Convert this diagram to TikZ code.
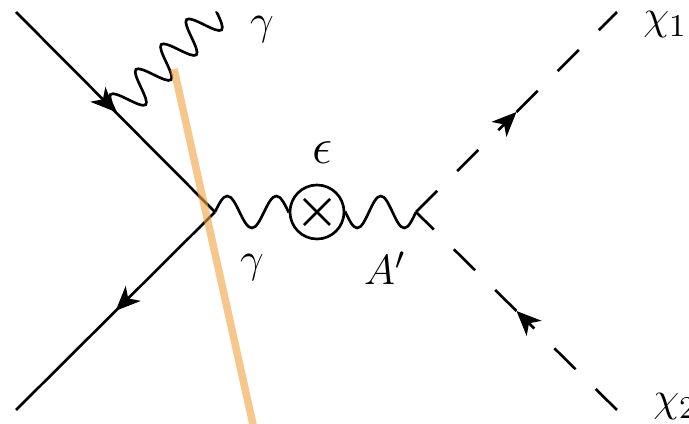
\documentclass[tikz,border=0pt]{standalone}
\usetikzlibrary{arrows.meta, calc, decorations, decorations.markings}

\definecolor{cutorange}{RGB}{242,160,60}

% photon line: whole number of half waves fitted to the path
\pgfdeclaredecoration{photonwave}{initial}{
  \state{initial}[width=+0pt, next state=up, persistent precomputation={%
      \pgfmathsetmacro\wavehalves{max(1,round(2*\pgfdecoratedpathlength/\pgfdecorationsegmentlength))}%
      \pgfmathsetlengthmacro\wavehalf{\pgfdecoratedpathlength/\wavehalves-0.01pt}%
      \pgfmathsetlengthmacro\wavequarter{\wavehalf/2}%
      \xdef\wavehalf{\wavehalf}\xdef\wavequarter{\wavequarter}}]{}
  \state{up}[width=\wavehalf, next state=down]{
    \pgfpathsine{\pgfpoint{\wavequarter}{\pgfdecorationsegmentamplitude}}
    \pgfpathcosine{\pgfpoint{\wavequarter}{-\pgfdecorationsegmentamplitude}}
  }
  \state{down}[width=\wavehalf, next state=up]{
    \pgfpathsine{\pgfpoint{\wavequarter}{-\pgfdecorationsegmentamplitude}}
    \pgfpathcosine{\pgfpoint{\wavequarter}{\pgfdecorationsegmentamplitude}}
  }
  \state{final}{\pgfpathlineto{\pgfpointdecoratedpathlast}}
}

\begin{document}
\begin{tikzpicture}[
    line width=0.75pt,
    fermion/.style={postaction={decorate},
        decoration={markings, mark=at position 0.5 with {\arrow{Stealth[length=7pt, width=6pt, inset=2pt]}}}},
    photon/.style={decorate,
        decoration={photonwave, segment length=#1, amplitude=0.16cm}},
    photon/.default=0.5cm,
    scalar/.style={dash pattern=on 0.3cm off 0.28cm},
    mixing/.style={draw, circle, minimum size=0.54cm, inner sep=0pt},
    cut/.style={draw=cutorange, opacity=0.6, line width=0.075cm},
    lbl/.style={font=\fontsize{13}{16}\selectfont, inner sep=0pt},
]
\useasboundingbox (0,0) rectangle (6.89,4.24);

% ============================ vertices ==================================
\coordinate (ein)  at (0.16,4.12);
\coordinate (eout) at (0.16,0.14);
\coordinate (v1)   at (2.15,2.12);
\coordinate (v2)   at (4.16,2.12);
\coordinate (chi1) at (6.17,4.12);
\coordinate (chi2) at (6.17,0.14);
\coordinate (emit) at ($(ein)!0.5!(v1)$);
\coordinate (gout) at (2.17,4.12);
\coordinate (m1)   at ($(v2)!0.5!(chi1)$);
\coordinate (m2)   at ($(v2)!0.5!(chi2)$);

\node[mixing] (mix) at (3.17,2.12) {};
\draw ([shift={(-0.13,-0.13)}]mix.center) -- ([shift={(0.13,0.13)}]mix.center);
\draw ([shift={(-0.13,0.13)}]mix.center) -- ([shift={(0.13,-0.13)}]mix.center);

% ============================ electron line =============================
\draw[fermion] (ein) -- (v1);
\draw[fermion] (v1) -- (eout);

% ============================ photons ===================================
\draw[photon=0.355cm] (emit) -- (gout);
\draw[photon] (v1) -- (mix);
\draw[photon] (v2) -- (mix);

% ============================ dark sector ===============================
\draw[scalar, -{Stealth[length=7pt, width=6pt, inset=2pt]}] (v2) -- (m1);
\draw[scalar] (m1) -- (chi1);
\draw[scalar, -{Stealth[length=7pt, width=6pt, inset=2pt]}] (chi2) -- (m2);
\draw[scalar] (m2) -- (v2);

% ============================ cut =======================================
\coordinate (cuttop) at (1.74,3.55);
\coordinate (cutbot) at (2.54,-0.05);
\draw[cut] (cuttop) -- (cutbot);

% ============================ labels ====================================
\node[lbl] (lgtop) at (2.62,3.94) {$\gamma$};
\node[lbl, font=\fontsize{15}{18}\selectfont] (leps) at (3.23,2.71) {$\epsilon$};
\node[lbl] (lglow) at (2.52,1.56) {$\gamma$};
\node[lbl] (lap) at (3.85,1.56) {$A'$};
\node[lbl, anchor=west] (lchi1) at (6.42,3.99) {$\chi_1$};
\node[lbl, anchor=west] (lchi2) at (6.52,0.17) {$\chi_2$};

\end{tikzpicture}
\end{document}
